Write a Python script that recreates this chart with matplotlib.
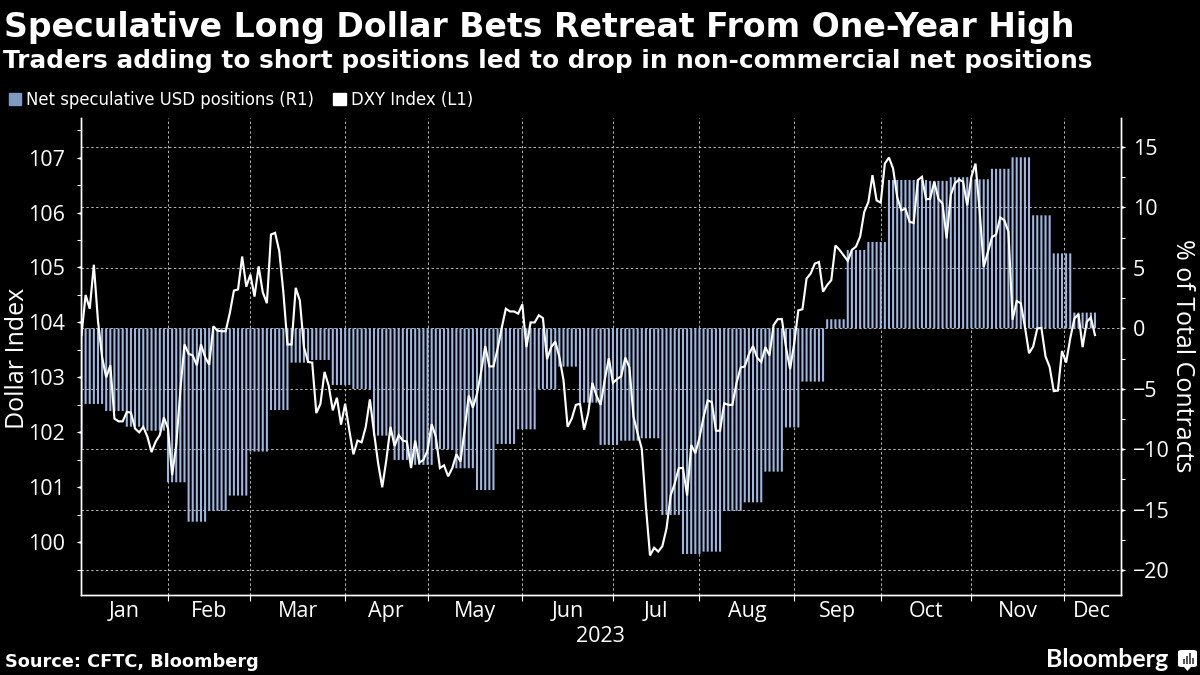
import numpy as np
import matplotlib
matplotlib.use("Agg")
import matplotlib.pyplot as plt
from matplotlib.patches import Patch, FancyBboxPatch, Polygon, Rectangle
from matplotlib.path import Path

# Daily DXY index (business days)
dxy = [
    103.77, 104.50, 104.25, 105.05, 104.03, 103.37, 103.00, 103.22, 102.25, 102.20,
    102.20, 102.37, 102.36, 102.07, 102.00, 102.10, 101.92, 101.64, 101.83, 101.95,
    102.27, 102.07, 101.22, 101.77, 102.77, 103.60, 103.43, 103.40, 103.22, 103.60,
    103.37, 103.23, 103.93, 103.85, 103.84, 103.84, 104.17, 104.58, 104.60, 105.20,
    104.65, 104.87, 104.47, 105.02, 104.55, 104.35, 105.60, 105.63, 105.30, 104.55,
    103.60, 103.60, 104.63, 104.40, 103.55, 103.28, 103.27, 102.35, 102.52, 103.10,
    102.85, 102.40, 102.63, 102.14, 102.52, 102.04, 101.60, 101.85, 101.82, 102.10,
    102.60, 102.00, 101.44, 101.00, 101.50, 102.10, 101.75, 101.95, 101.85, 101.83,
    101.35, 101.85, 101.45, 101.50, 101.67, 102.15, 101.92, 101.35, 101.40, 101.20,
    101.35, 101.60, 101.47, 102.05, 102.67, 102.45, 102.70, 103.10, 103.57, 103.20,
    103.20, 103.52, 103.90, 104.25, 104.20, 104.20, 104.16, 104.33, 103.55, 104.00,
    104.00, 104.13, 104.08, 103.33, 103.55, 103.65, 103.37, 102.95, 102.10, 102.25,
    102.50, 102.52, 102.05, 102.35, 102.90, 102.67, 102.50, 102.95, 103.35, 102.90,
    102.97, 103.02, 103.36, 103.18, 102.28, 101.98, 101.70, 100.65, 99.76, 99.90,
    99.83, 99.93, 100.25, 100.85, 101.07, 101.35, 101.35, 100.85, 101.77, 101.62,
    101.90, 102.28, 102.58, 102.55, 102.03, 102.03, 102.53, 102.50, 102.50, 102.90,
    103.18, 103.20, 103.42, 103.57, 103.36, 103.28, 103.55, 103.40, 103.95, 104.06,
    104.06, 103.55, 103.15, 103.62, 104.22, 104.24, 104.80, 104.89, 105.07, 105.10,
    104.56, 104.68, 104.77, 105.40, 105.32, 105.22, 105.12, 105.32, 105.38, 105.56,
    106.01, 106.19, 106.68, 106.22, 106.18, 106.89, 107.00, 106.80, 106.28, 106.04,
    106.07, 105.83, 105.81, 106.59, 106.65, 106.24, 106.25, 106.56, 106.25, 106.16,
    105.53, 106.32, 106.53, 106.60, 106.56, 106.13, 106.65, 106.89, 106.04, 105.01,
    105.28, 105.55, 105.60, 105.91, 105.86, 105.65, 104.05, 104.39, 104.35, 103.92,
    103.44, 103.56, 103.89, 103.90, 103.38, 103.19, 102.75, 102.76, 103.48, 103.27,
    103.71, 104.07, 104.15, 103.55, 104.01, 104.09, 103.77,
]

# Weekly net speculative positions and how many business days each one covers
net_weekly = [
    -9.93, -6.26, -6.84, -8.14, -8.47, -12.74, -16.00, -15.10, -13.84, -10.20,
    -6.76, -2.84, -2.62, -4.69, -5.02, -8.88, -10.89, -11.30, -10.00, -11.58,
    -13.38, -9.57, -8.36, -5.02, -3.17, -6.15, -9.65, -9.30, -9.10, -15.44,
    -18.67, -18.48, -15.10, -14.40, -11.86, -8.20, -4.41, 0.75, 6.48, 7.14,
    12.27, 12.27, 12.20, 12.50, 12.33, 13.20, 14.15, 9.35, 6.20, 1.30,
]
week_days = [1] + [5] * 34 + [4, 6] + [5] * 12 + [6]

months = ["Jan", "Feb", "Mar", "Apr", "May", "Jun", "Jul", "Aug", "Sep", "Oct", "Nov", "Dec"]
month_starts = [21, 41, 64, 84, 107, 129, 150, 173, 194, 216, 238.4]

left_ticks = [100, 101, 102, 103, 104, 105, 106, 107]
left_minor = [99.5, 100.5, 101.5, 102.5, 103.5, 104.5, 105.5, 106.5, 107.5]
right_ticks = [-20, -15, -10, -5, 0, 5, 10, 15]
right_minor = [-17.5, -12.5, -7.5, -2.5, 2.5, 7.5, 12.5]

BAR_COLOR = "#9db7e2"
GRID_COLOR = "#b8b8b8"
W, H = 1200, 675

plt.rcParams["font.family"] = ["DejaVu Sans"]
AXIS_FONT = "Open Sans"

fig = plt.figure(figsize=(12, 6.75), dpi=100, facecolor="black")

# right axis is the host so its grid and the x axis stay visible
ax_r = fig.add_axes([80.5 / W, (H - 595.3) / H, 1040 / W, 477.3 / H], facecolor="black")
ax_l = ax_r.twinx()
ax_l.set_zorder(ax_r.get_zorder() + 1)
ax_l.patch.set_visible(False)

net_daily = np.repeat(net_weekly, week_days)
days = np.arange(len(dxy))

# snap off keeps the thin stripes evenly spaced
ax_r.bar(days, net_daily, width=0.5, color=BAR_COLOR, linewidth=0, zorder=2, snap=False)
ax_l.plot(days, dxy, color="white", lw=1.55, solid_joinstyle="miter", zorder=3)

ax_r.set_xlim(-0.24, 252.2)
ax_r.set_ylim(-22.09, 17.4)
ax_l.set_ylim(99.035, 107.72)

# y ticks
ax_r.yaxis.tick_right()
ax_r.yaxis.set_label_position("right")
ax_l.yaxis.tick_left()
ax_l.yaxis.set_label_position("left")
ax_r.set_yticks(right_ticks)
ax_r.set_yticks(right_minor, minor=True)
ax_l.set_yticks(left_ticks)
ax_l.set_yticks(left_minor, minor=True)
ax_r.tick_params(axis="y", which="major", length=6, width=0, pad=3, colors="white", labelsize=15.5)
ax_r.tick_params(axis="y", which="minor", length=3, width=0.8, colors="white")
ax_l.tick_params(axis="y", which="major", length=6, width=0, pad=5, colors="white", labelsize=15.5)
ax_l.tick_params(axis="y", which="minor", length=3, width=0.8, colors="white")

# triangle tick marks sit just outside the spines
tri_left = Path([(0, -0.3), (0, 0.3), (-1, 0), (0, -0.3)])
tri_right = Path([(0, -0.3), (0, 0.3), (1, 0), (0, -0.3)])
ax_l.plot([0] * len(left_ticks), left_ticks, ls="", marker=tri_left, ms=7.2, color="white",
          mew=0, clip_on=False, transform=ax_l.get_yaxis_transform())
ax_r.plot([1] * len(right_ticks), right_ticks, ls="", marker=tri_right, ms=7.2, color="white",
          mew=0, clip_on=False, transform=ax_r.get_yaxis_transform())

# x axis: ticks at month starts, labels centred inside each month
edges = [ax_r.get_xlim()[0]] + month_starts + [ax_r.get_xlim()[1]]
centers = [(a + b) / 2 for a, b in zip(edges[:-1], edges[1:])]
ax_r.set_xticks(month_starts)
ax_r.set_xticklabels([])
ax_r.set_xticks(centers, minor=True)
ax_r.set_xticklabels(months, minor=True)
ax_r.tick_params(axis="x", which="major", length=4, width=0.8, color="white")
ax_r.tick_params(axis="x", which="minor", length=0, pad=4, labelcolor="white", labelsize=15.5)

ax_r.set_axisbelow(True)
ax_r.grid(True, which="major", color=GRID_COLOR, lw=0.7, ls=(0, (2.5, 2.5)))

for ax in (ax_r, ax_l):
    ax.spines["top"].set_visible(False)
    for side in ("left", "right", "bottom"):
        ax.spines[side].set_color("white")
        ax.spines[side].set_linewidth(1.0)
    for lab in ax.get_yticklabels() + ax.get_xticklabels(minor=True):
        lab.set_family(AXIS_FONT)

fig.text(600 / W, 1 - 637 / H, "2023", color="white", fontsize=15.5, family=AXIS_FONT, ha="center", va="center")
fig.text(18 / W, 1 - 358 / H, "Dollar Index", color="white", fontsize=18, family=AXIS_FONT,
         rotation=90, ha="center", va="center")
fig.text(1182 / W, 1 - 356 / H, "% of Total Contracts", color="white", fontsize=18, family=AXIS_FONT,
         rotation=270, ha="center", va="center")

# headline block
fig.text(4 / W, 1 - 37 / H, "Speculative Long Dollar Bets Retreat From One-Year High", color="white",
         fontsize=23.9, fontweight="bold", ha="left", va="baseline")
fig.text(3 / W, 1 - 68 / H, "Traders adding to short positions led to drop in non-commercial net positions",
         color="white", fontsize=17.85, fontweight="bold", ha="left", va="baseline")

handles = [Patch(color="#7f99c2", label="Net speculative USD positions (R1)"),
           Patch(color="white", label="DXY Index (L1)")]
fig.legend(handles=handles, loc="center left", bbox_to_anchor=(9 / W, 1 - 100 / H), ncol=2, frameon=False,
           fontsize=11.9, labelcolor="white", handlelength=0.75, handleheight=0.75,
           handletextpad=0.3, columnspacing=1.15, borderaxespad=0, borderpad=0)

fig.text(5 / W, 1 - 667 / H, "Source: CFTC, Bloomberg", color="white", fontsize=12.75, fontweight="bold",
         ha="left", va="baseline")
fig.text(1168 / W, 1 - 667 / H, "Bloomberg", color="white", fontsize=18, family="Lato", fontweight="bold",
         ha="right", va="baseline")

# small logo mark next to the wordmark
logo = FancyBboxPatch((1178 / W, 1 - 667 / H), 19 / W, 17 / H, boxstyle="round,pad=0,rounding_size=0.003",
                      transform=fig.transFigure, facecolor="white", edgecolor="none")
fig.add_artist(logo)
fig.add_artist(Polygon([(1184 / W, 1 - 667 / H), (1191 / W, 1 - 667 / H), (1187.5 / W, 1 - 671 / H)],
                       transform=fig.transFigure, facecolor="white", edgecolor="none"))
for bx, bh in zip([1183, 1186, 1189, 1192], [5, 8, 11, 6]):
    fig.add_artist(Rectangle((bx / W, 1 - 664 / H), 1.6 / W, bh / H, transform=fig.transFigure,
                             facecolor="#555555", edgecolor="none"))

fig.savefig("out.png", dpi=100, facecolor="black")
